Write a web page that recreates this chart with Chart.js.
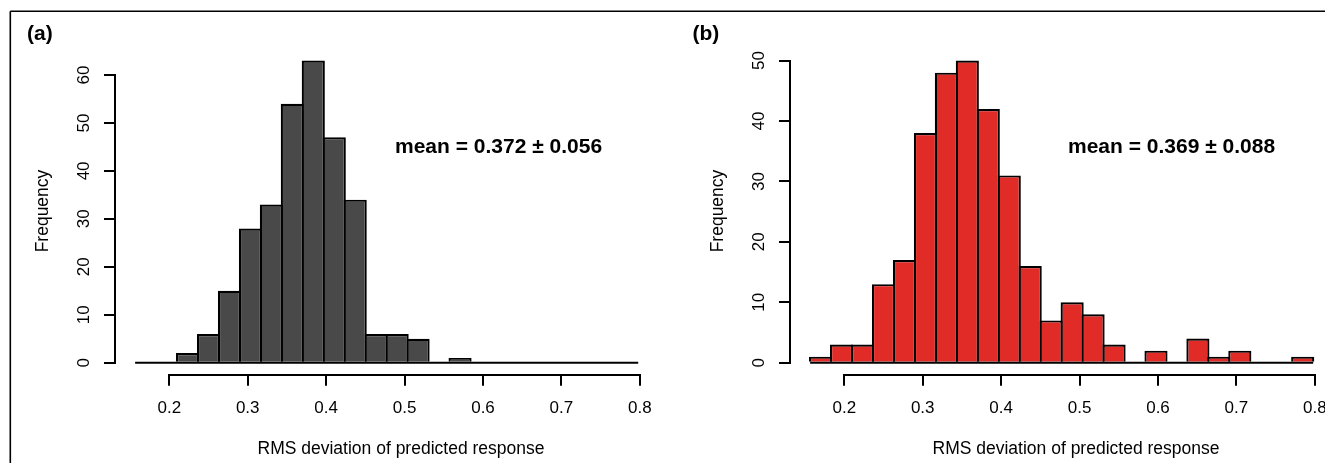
<!DOCTYPE html>
<html><head><meta charset="utf-8">
<script src="https://cdn.jsdelivr.net/npm/chart.js@4.4.1/dist/chart.umd.min.js"></script>
<style>
html,body{margin:0;padding:0;background:#fff;overflow:hidden;width:1325px;height:463px;}
canvas{position:absolute;top:0;}
#ca{left:0}
#cb{left:675px}
</style></head><body>
<canvas id="ca" width="675" height="463"></canvas>
<canvas id="cb" width="675" height="463"></canvas>
<script>
// ---- data ----
const binEdges = [0.1564, 0.1831, 0.2099, 0.2366, 0.2633, 0.2901, 0.3168, 0.3435, 0.3702,
  0.3970, 0.4237, 0.4504, 0.4772, 0.5039, 0.5306, 0.5574, 0.5841, 0.6108, 0.6375,
  0.6643, 0.6910, 0.7177, 0.7445, 0.7712, 0.7979];
const countsA = [0, 0, 2, 6, 15, 28, 33, 54, 63, 47, 34, 6, 6, 5, 0, 1, 0, 0, 0, 0, 0, 0, 0, 0];
const countsB = [1, 3, 3, 13, 17, 38, 48, 50, 42, 31, 16, 7, 10, 8, 3, 0, 2, 0, 4, 1, 2, 0, 0, 1];
const xTickValues = [0.2, 0.3, 0.4, 0.5, 0.6, 0.7, 0.8];
const yTickValuesA = [0, 10, 20, 30, 40, 50, 60];
const yTickValuesB = [0, 10, 20, 30, 40, 50];
const xAxisTitle = 'RMS deviation of predicted response';
const yAxisTitle = 'Frequency';
const panelLabels = ['(a)', '(b)'];
const meanTexts = ['mean = 0.372 ± 0.056', 'mean = 0.369 ± 0.088'];

// ---- chart ----
const FONT = "'Liberation Sans', Arial, Helvetica, sans-serif";
Chart.defaults.font.family = FONT;
Chart.defaults.color = '#000';

const decor = {
  id: 'decor',
  afterDraw(chart, args, o) {
    const ctx = chart.ctx;
    const xs = chart.scales.x, ys = chart.scales.y;
    const W = chart.width, H = chart.height;
    ctx.save();
    // figure frame
    ctx.strokeStyle = '#000';
    ctx.lineWidth = 1.6;
    ctx.beginPath();
    ctx.moveTo(o.frameLeft ? 10.3 : 0, 11.3);
    ctx.lineTo(W, 11.3);
    if (o.frameLeft) { ctx.moveTo(10.3, 11.3); ctx.lineTo(10.3, H); }
    ctx.stroke();
    // axis lines spanning the tick range
    ctx.lineWidth = 2;
    ctx.lineCap = 'square';
    const xt = o.xTicks, yt = o.yTicks;
    const yAx = Math.round(xs.top);
    ctx.beginPath();
    ctx.moveTo(Math.round(xs.getPixelForValue(xt[0])), yAx);
    ctx.lineTo(Math.round(xs.getPixelForValue(xt[xt.length - 1])), yAx);
    const xAx = Math.round(ys.right);
    ctx.moveTo(xAx, Math.round(ys.getPixelForValue(yt[0])));
    ctx.lineTo(xAx, Math.round(ys.getPixelForValue(yt[yt.length - 1])));
    ctx.stroke();
    // texts
    ctx.fillStyle = '#000';
    ctx.textAlign = 'left';
    ctx.textBaseline = 'alphabetic';
    ctx.font = 'bold 21px ' + FONT;
    ctx.fillText(o.label, o.labelX, 39.5);
    ctx.font = 'bold 21px ' + FONT;
    ctx.fillText(o.mean, o.meanX, 152.5);
    ctx.font = '17.5px ' + FONT;
    ctx.textAlign = 'center';
    ctx.fillText(o.xTitle, 401, 454);
    ctx.save();
    ctx.translate(43, 211);
    ctx.rotate(-Math.PI / 2);
    ctx.textBaseline = 'middle';
    ctx.fillText(o.yTitle, 0, 0);
    ctx.restore();
    ctx.restore();
  }
};

function makeChart(id, counts, yTicks, color, idx) {
  const centers = counts.map((c, i) => (binEdges[i] + binEdges[i + 1]) / 2);
  const range = binEdges[binEdges.length - 1] - binEdges[0];
  const maxC = Math.max(...counts);
  return new Chart(document.getElementById(id), {
    type: 'bar',
    data: {
      datasets: [
        {
          type: 'line',
          data: [{x: binEdges[0], y: 0}, {x: binEdges[binEdges.length - 1], y: 0}],
          borderColor: '#000', borderWidth: 2, pointRadius: 0, order: 0
        },
        {
          type: 'bar',
          data: centers.map((c, i) => ({x: c, y: counts[i]})),
          backgroundColor: color,
          borderColor: '#000',
          borderWidth: 2.2,
          borderSkipped: 'start',
          barPercentage: 1.105,
          categoryPercentage: 1,
          inflateAmount: 0,
          order: 1
        }
      ]
    },
    options: {
      responsive: false,
      animation: false,
      events: [],
      layout: {padding: {left: 0, right: 16.7, top: 48.5, bottom: 0}},
      plugins: {
        legend: {display: false},
        tooltip: {enabled: false},
        decor: {
          frameLeft: idx === 0,
          label: panelLabels[idx],
          labelX: idx === 0 ? 27 : 17.5,
          mean: meanTexts[idx],
          meanX: idx === 0 ? 395 : 393,
          xTitle: xAxisTitle,
          yTitle: yAxisTitle,
          xTicks: xTickValues,
          yTicks: yTicks
        }
      },
      scales: {
        x: {
          type: 'linear',
          offset: false,
          min: binEdges[0] - 0.04 * range,
          max: binEdges[binEdges.length - 1] + 0.04 * range,
          afterBuildTicks: s => { s.ticks = xTickValues.map(v => ({value: v})); },
          afterFit: s => { s.height = 88.2; },
          border: {display: false},
          grid: {display: true, drawOnChartArea: false, drawTicks: true, tickLength: 11,
                 color: '#000', lineWidth: 2, offset: false},
          ticks: {font: {size: 17}, color: '#000', padding: 12, maxRotation: 0, minRotation: 0,
                  autoSkip: false, callback: v => v.toFixed(1)}
        },
        y: {
          type: 'linear',
          min: -0.04 * maxC,
          max: maxC * 1.04,
          afterBuildTicks: s => { s.ticks = yTicks.map(v => ({value: v})); },
          afterFit: s => { s.width = 115; },
          border: {display: false},
          grid: {display: true, drawOnChartArea: false, drawTicks: true, tickLength: 11,
                 color: '#000', lineWidth: 2},
          ticks: {font: {size: 17}, color: '#000', padding: 10.5, minRotation: 90, maxRotation: 90,
                  crossAlign: 'center', autoSkip: false, callback: v => String(v)}
        }
      }
    },
    plugins: [decor]
  });
}

makeChart('ca', countsA, yTickValuesA, '#494949', 0);
makeChart('cb', countsB, yTickValuesB, '#E12B27', 1);
</script>
</body></html>
